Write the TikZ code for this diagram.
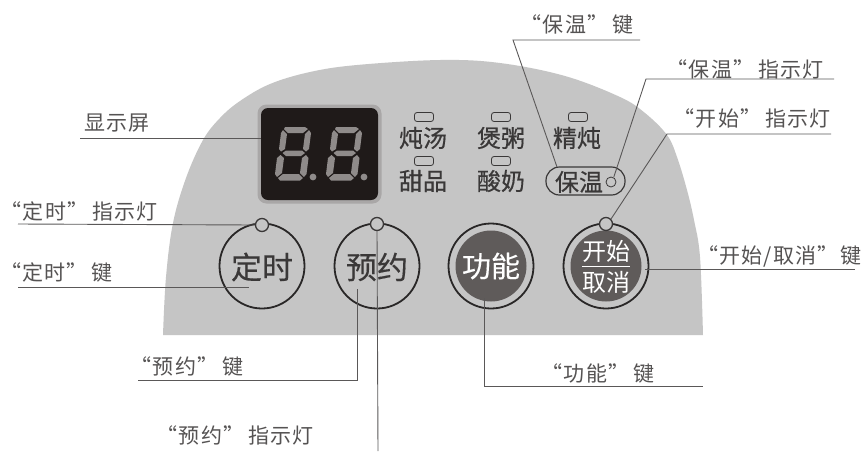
\documentclass[tikz,border=0pt]{standalone}
\usepackage{fontspec}
\setmainfont{Noto Sans CJK SC}
\newfontfamily\labfont[LetterSpace=6]{Noto Sans CJK SC}
\newfontfamily\panfont[FakeBold=0.5]{Noto Sans CJK SC}
\newfontfamily\keyfont[FakeBold=0.3]{Noto Sans CJK SC}
\definecolor{panelg}{HTML}{C5C5C5}
\definecolor{inkc}{HTML}{3A3838}
\definecolor{labc}{HTML}{555353}
\definecolor{linec}{HTML}{5A5858}
\definecolor{darkbtn}{HTML}{5F5B5A}
\definecolor{segc}{HTML}{8F8B8A}
\definecolor{haloc}{HTML}{A9A7A7}
\definecolor{screenc}{HTML}{1F1A19}
\tikzset{
  x=1pt,y=-1pt,
  lead/.style={draw=linec,line width=0.9pt},
  lab/.style={text=labc,anchor=west,font=\labfont\fontsize{21}{21}\selectfont,inner sep=0pt},
  panlab/.style={text=inkc,font=\panfont\fontsize{24}{24}\selectfont,inner sep=0pt},
  key/.style={text=inkc,font=\keyfont\fontsize{31}{31}\selectfont,inner sep=0pt},
  ledbar/.style={draw=inkc,line width=0.8pt,rounded corners=2.5pt,minimum width=19pt,minimum height=9pt,inner sep=0pt},
  ledc/.style={circle,draw=inkc,line width=1.3pt,fill=panelg,minimum size=13pt,inner sep=0pt},
  btn/.style={circle,draw=inkc!70!black,line width=1.8pt,minimum size=85pt,inner sep=0pt},
  dk/.style={circle,fill=darkbtn,minimum size=71pt,inner sep=0pt},
  seg/.style={fill=segc,draw=none},
}
\newcommand{\digitshape}[2]{%
 \begin{scope}[shift={(#1,#2)}]
  \fill[seg] (8,0)--(28,0)--(31,2)--(26,6)--(11,6)--(7,2)--cycle;
  \fill[seg] (6,3)--(10,7)--(8,22)--(4,24.5)--(2,22)--(4,6)--cycle;
  \fill[seg] (32,3)--(34,6)--(32,22)--(29,24.5)--(26,22)--(28,7)--cycle;
  \fill[seg] (5.5,26)--(9,23.5)--(25,23.5)--(28,26)--(24,29)--(9,29)--cycle;
  \fill[seg] (3.5,28)--(7,31)--(5,46)--(0,50)--(-2,47)--(0,31)--cycle;
  \fill[seg] (29,28)--(31.5,31)--(29.5,47)--(27,50)--(23,46)--(25,31)--cycle;
  \fill[seg] (6,47)--(22,47)--(26,51)--(23,53.5)--(3,53.5)--(1,51)--cycle;
  \fill[seg] (36,50) circle (3.4);
 \end{scope}}
\begin{document}
\begin{tikzpicture}
\useasboundingbox (0,0) rectangle (863,451);
\fill[white] (0,0) rectangle (863,451);
% panel
\fill[panelg] plot[smooth,tension=0.6] coordinates {(163,335) (166,277) (173,223) (186,178) (203,140) (220,118) (240,101) (270,84) (310,72) (357,65) (440,60) (500,63) (565,76) (620,97) (645,113) (667,135) (677,157) (687,190) (694,220) (700,257) (703,335)} -- cycle;
% screen
\node[fill=haloc,rounded corners=9pt,minimum width=124pt,minimum height=99pt,inner sep=0pt] (halo) at (319.5,154) {};
\node[fill=screenc,rounded corners=7pt,minimum width=117pt,minimum height=92pt,inner sep=0pt] (screen) at (319.5,154) {};
\digitshape{277}{127}
\digitshape{328}{127}
% indicator bars
\node[ledbar] (b1) at (424,117) {};
\node[ledbar] (b2) at (501,117) {};
\node[ledbar] (b3) at (578,117) {};
\node[ledbar] (b4) at (424,161) {};
\node[ledbar] (b5) at (501,161) {};
% panel labels
\node[panlab] (t1) at (423,138) {炖汤};
\node[panlab] (t2) at (501,138) {煲粥};
\node[panlab] (t3) at (577,138) {精炖};
\node[panlab] (t4) at (423,181) {甜品};
\node[panlab] (t5) at (501,181) {酸奶};
\node[draw=inkc,line width=1.2pt,rounded corners=13.5pt,minimum width=79pt,minimum height=28pt,inner sep=0pt] (pill) at (585.5,181) {};
\node[panlab] (t6) at (579,182) {保温};
\node[circle,draw=inkc,line width=0.8pt,minimum size=10pt,inner sep=0pt] (wled) at (611,182) {};
% buttons
\node[btn] (dingshi) at (262,266) {};
\node[key] at (262,267) {定时};
\node[btn] (yuyue) at (377,266) {};
\node[key] at (377,267) {预约};
\node[btn] (gongneng) at (491,266) {};
\node[dk] (gn) at (491,266) {};
\node[key,text=white,font=\keyfont\fontsize{29}{29}\selectfont] at (491,266) {功能};
\node[btn] (kaishi) at (606,266) {};
\node[dk] (ks) at (606,266) {};
\node[text=white,font=\fontsize{24}{24}\selectfont,inner sep=0pt] (ks1) at (606,251) {开始};
\node[text=white,font=\fontsize{24}{24}\selectfont,inner sep=0pt] (ks2) at (606,282) {取消};
\draw[white,line width=1pt] (582,266.5) -- (630,266.5);
\node[ledc] (l1) at (262,225) {};
\node[ledc] (l2) at (377,224) {};
\node[ledc] (l3) at (606,224) {};
% free ends
\coordinate (ax) at (80,138);
\coordinate (bx) at (18,224);
\coordinate (cx) at (18,287);
\coordinate (cy) at (249,287);
\coordinate (dx) at (138,380);
\coordinate (dy) at (357,380);
\coordinate (dz) at (357,289);
\coordinate (ez) at (378,451);
\coordinate (fy) at (484,386);
\coordinate (fx) at (703,386);
\coordinate (fz) at (484,298);
\coordinate (gx) at (855,269);
\coordinate (gz) at (645,269);
\coordinate (hy) at (667,134);
\coordinate (hx) at (831,134);
\coordinate (iy) at (646,79);
\coordinate (ix) at (834,79);
\coordinate (jy) at (513,40);
\coordinate (jx) at (640,40);
\coordinate (jz) at (557,167);
% connectors
\draw[lead] (ax) -- (screen.west |- ax);
\draw[lead] (bx) -- (l1.west);
\draw[lead] (cx) -- (cy);
\draw[lead] (dx) -- (dy) -- (dz);
\draw[lead] (l2.south) -- (ez);
\draw[lead] (fz) -- (fy) -- (fx);
\draw[lead] (gz) -- (gx);
\draw[lead] (l3.north east) -- (hy) -- (hx);
\draw[lead] (wled.60) -- (iy) -- (ix);
\draw[lead] (jz) -- (jy) -- (jx);
% labels
\node[lab] (la) at (84,123) {显示屏};
\node[lab] (lb) at (0.5,211) {“定时”\hspace{4pt}指示灯};
\node[lab] (lc) at (0,272) {“定时”\hspace{4pt}键};
\node[lab] (ld) at (130.5,366) {“预约”\hspace{4pt}键};
\node[lab] (le) at (156.5,435) {“预约”\hspace{4pt}指示灯};
\node[lab] (lf) at (541.5,373) {“功能”\hspace{4pt}键};
\node[lab] (lg) at (697,256) {“开始/取消”键};
\node[lab] (lh) at (673.5,118) {“开始”\hspace{4pt}指示灯};
\node[lab] (li) at (666.5,69) {“保温”\hspace{4pt}指示灯};
\node[lab] (lj) at (520.5,24) {“保温”\hspace{4pt}键};
\end{tikzpicture}
\end{document}
